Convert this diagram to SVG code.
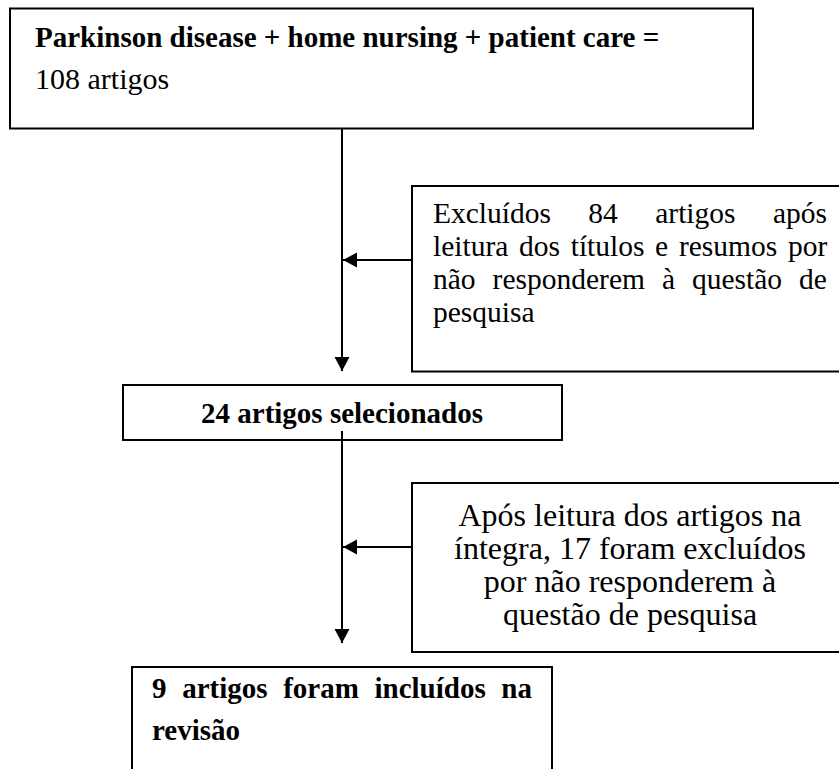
<svg xmlns="http://www.w3.org/2000/svg" width="839" height="769" viewBox="0 0 839 769">
<style>
.box{fill:#fff;stroke:#000;stroke-width:2}
.t{font-family:"Liberation Serif","Times New Roman",serif;fill:#000}
.b{font-weight:bold;font-size:29px}
.r{font-size:29.5px}
.c{font-size:32px;text-anchor:middle}
.ln{stroke:#000;stroke-width:2;fill:none}
</style>
<defs>
<marker id="ah" markerUnits="userSpaceOnUse" markerWidth="16" markerHeight="16" viewBox="0 0 16 16" refX="14" refY="8" orient="auto">
<path d="M0,0.5 L14,8 L0,15.5 Z" fill="#000"/>
</marker>
</defs>
<rect x="0" y="0" width="839" height="769" fill="#fff"/>
<g id="n1">
<rect class="box" x="10" y="8.5" width="743" height="120"/>
<text class="t b" x="35" y="47">Parkinson disease + home nursing + patient care =</text>
<text class="t" x="35" y="89" font-size="30">108 artigos</text>
</g>
<g id="n2">
<rect class="box" x="412" y="186" width="440" height="185.5"/>
<text class="t r" x="433" y="223" word-spacing="30">Excluídos 84 artigos após</text>
<text class="t r" x="433" y="256" word-spacing="3.3">leitura dos títulos e resumos por</text>
<text class="t r" x="433" y="289" word-spacing="9.6">não responderem à questão de</text>
<text class="t r" x="433" y="322">pesquisa</text>
</g>
<g id="n3">
<rect class="box" x="123" y="385" width="439" height="55" stroke-width="1.6"/>
<text class="t b" x="342" y="423" text-anchor="middle">24 artigos selecionados</text>
</g>
<g id="n4">
<rect class="box" x="412" y="483" width="440" height="169"/>
<text class="t c" x="630" y="526">Após leitura dos artigos na</text>
<text class="t c" x="630" y="559">íntegra, 17 foram excluídos</text>
<text class="t c" x="630" y="592">por não responderem à</text>
<text class="t c" x="630" y="625">questão de pesquisa</text>
</g>
<g id="n5">
<rect class="box" x="132" y="667" width="420" height="150" stroke-width="2.6"/>
<text class="t b" x="152" y="698" word-spacing="8.4">9 artigos foram incluídos na</text>
<text class="t b" x="152" y="740">revisão</text>
</g>
<g id="connectors">
<line class="ln" x1="342" y1="129" x2="342" y2="371" marker-end="url(#ah)"/>
<line class="ln" x1="412" y1="260" x2="343" y2="260" marker-end="url(#ah)"/>
<line class="ln" x1="342" y1="431" x2="342" y2="643" marker-end="url(#ah)"/>
<line class="ln" x1="412" y1="547" x2="343" y2="547" marker-end="url(#ah)"/>
</g>
</svg>
